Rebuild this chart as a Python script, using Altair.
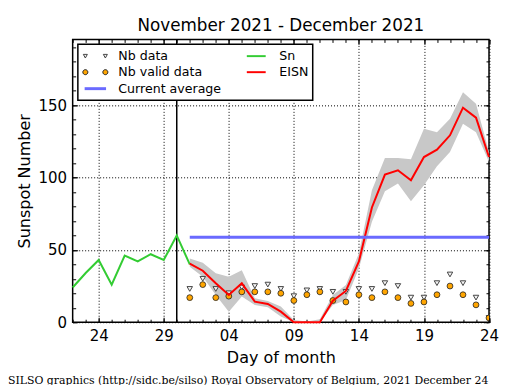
import altair as alt
import pandas as pd

FONT = "DejaVu Sans"

# ---------------- data ----------------
# x = day number counted from 1 Nov 2021 (30 = 30 Nov, 31 = 1 Dec, 54 = 24 Dec)
sn_days = [22, 23, 24, 25, 26, 27, 28, 29, 30, 31]
sn_values = [24, 34, 43, 26, 46, 42, 47, 43, 60, 40]

eisn_days = list(range(31, 55))
eisn_values = [40.5, 35.6, 26.9, 18.8, 26.9, 14.2, 12.6, 7.3, 0, 0, 0, 14.9,
               21.6, 42, 79.3, 102, 105, 98.1, 114.2, 119.3, 129.2, 148.3, 141.4, 114.2]
eisn_upper = [44.1, 41.1, 33.8, 31.4, 36, 16.6, 14.7, 10.8, 1.6, 0.5, 2, 18.8,
              25.7, 47.6, 91.2, 113.5, 113.5, 112.6, 133.8, 131.4, 140.7, 159, 151, 117.7]
eisn_lower = [38.3, 31.4, 18.8, 7.3, 17.7, 11.9, 10.3, 3.9, 0, 0, 0, 11.9,
              15.4, 37.2, 69.4, 90.6, 95.9, 83.7, 94.7, 107.8, 117.7, 137.2, 131.4, 110.8]
nb_data = [23, 30, 23, 20, 24, 25, 26, 23, 18, 22, 23, 21,
           21, 23, 23, 27, 25, 17, 17, 27, 33, 27, 17, 3]
nb_valid = [17, 26, 17, 18, 21, 21, 21, 20, 15, 19, 21, 15,
            14, 19, 17, 21, 17, 13, 14, 19, 25, 19, 12, 3]
current_average = [58.8]
average_start = [31]
average_end = [54]
month_line = [30]

x_major = [24, 29, 34, 39, 44, 49, 54]
x_minor = list(range(22, 55))
y_major = [0, 50, 100, 150]
y_minor = list(range(0, 200, 10))
x_domain = [22, 54]
y_domain = [0, 195.5]

title_text = "November 2021 - December 2021"
footer_text = "SILSO graphics (http://sidc.be/silso) Royal Observatory of Belgium, 2021 December 24"

legend_order = ["Nb data", "Nb valid data", "Current average", "Sn", "EISN"]

# ---------------- tables ----------------
sn_df = pd.DataFrame({"day": sn_days, "sn": sn_values})
eisn_df = pd.DataFrame({"day": eisn_days, "eisn": eisn_values, "hi": eisn_upper,
                        "lo": eisn_lower, "nb": nb_data, "nbv": nb_valid})
avg_df = pd.DataFrame({"start": average_start, "end": average_end, "avg": current_average})
vline_df = pd.DataFrame({"day": month_line})
leg_df = pd.DataFrame({"series": legend_order})
foot_df = pd.DataFrame({"t": [footer_text]})

xs = alt.Scale(domain=x_domain, nice=False, zero=False)
ys = alt.Scale(domain=y_domain, nice=False, zero=False)

label_expr = ("datum.value > 30 ? ((datum.value - 30) < 10 ? '0' + (datum.value - 30) "
              ": '' + (datum.value - 30)) : '' + datum.value")

common = dict(domain=False, tickColor="black", tickWidth=1)

ax_x_main = alt.Axis(values=x_major, labelExpr=label_expr, orient="bottom", offset=-5,
                     tickSize=5, grid=True, gridDash=[1, 2], gridColor="black", gridWidth=1,
                     labelFont=FONT, labelFontSize=15, labelColor="black", labelPadding=6,
                     labelFlush=False, labelOverlap=False,
                     title="Day of month", titleFont=FONT, titleFontSize=16,
                     titleFontWeight="normal", titleColor="black", titlePadding=6, **common)
ax_y_main = alt.Axis(values=y_major, orient="left", offset=-5, tickSize=5, grid=True,
                     gridDash=[1, 2], gridColor="black", gridWidth=1,
                     labelFont=FONT, labelFontSize=15, labelColor="black", labelPadding=6,
                     labelFlush=False, labelOverlap=False,
                     title="Sunspot Number", titleFont=FONT, titleFontSize=16,
                     titleFontWeight="normal", titleColor="black", titlePadding=6, **common)


def tick_axis(values, orient, size):
    return alt.Axis(values=values, orient=orient, offset=-size, tickSize=size, labels=False,
                    grid=False, title=None, **common)


def X(field, axis=None):
    return alt.X(field, type="quantitative", scale=xs, axis=axis)


def Y(field, axis=None):
    return alt.Y(field, type="quantitative", scale=ys, axis=axis)


band = alt.Chart(eisn_df).mark_area(color="#c8c8c8", opacity=1).encode(
    x=X("day", ax_x_main), y=Y("hi", ax_y_main), y2="lo")

vline = alt.Chart(vline_df).mark_rule(color="black", strokeWidth=1.5).encode(x=X("day"))

tri = alt.Chart(eisn_df).mark_point(shape="triangle-down", size=30, filled=True,
                                    fill="#f4f4f4", stroke="#444444", strokeWidth=1,
                                    opacity=1, clip=True).encode(
    x=X("day", tick_axis(x_minor, "bottom", 3)), y=Y("nb", tick_axis(y_minor, "left", 3)))

circ = alt.Chart(eisn_df).mark_point(shape="circle", size=34, filled=True, fill="#ffa500",
                                     stroke="#222222", strokeWidth=0.8, opacity=1,
                                     clip=True).encode(
    x=X("day", tick_axis(x_major, "top", 5)), y=Y("nbv", tick_axis(y_major, "right", 5)))

sn = alt.Chart(sn_df).mark_line(color="#33cc33", strokeWidth=2).encode(
    x=X("day", tick_axis(x_minor, "top", 3)), y=Y("sn", tick_axis(y_minor, "right", 3)))

eisn = alt.Chart(eisn_df).mark_line(color="#ff0000", strokeWidth=2).encode(
    x=X("day"), y=Y("eisn"))

avg = alt.Chart(avg_df).mark_rule(color="#6a6aff", strokeWidth=3).encode(
    x=X("start"), x2="end", y=Y("avg"))

# legend symbols (custom paths, two markers like the original)
tri_path = "M-1.72,-0.25L-1.14,-0.25L-1.43,0.27Z M1.14,-0.25L1.72,-0.25L1.43,0.27Z"
circ_path = ("M-1.07,0A0.36,0.36,0,1,0,-1.79,0A0.36,0.36,0,1,0,-1.07,0Z "
             "M1.79,0A0.36,0.36,0,1,0,1.07,0A0.36,0.36,0,1,0,1.79,0Z")
thin_line = "M-1.35,-0.14H1.35V0.14H-1.35Z"
thick_line = "M-1.53,-0.21H1.53V0.21H-1.53Z"

shape_range = [tri_path, circ_path, thick_line, thin_line, thin_line]
fill_range = ["#f4f4f4", "#ffa500", "#6a6aff", "#33cc33", "#ff0000"]
stroke_range = ["#444444", "#222222", "transparent", "transparent", "transparent"]

leg = alt.Legend(title=None, orient="none", legendX=5.2, legendY=4.8, columns=2,
                 columnPadding=21, rowPadding=1.5, padding=4, symbolSize=196,
                 symbolOffset=6, labelOffset=15.5, labelFont=FONT, labelFontSize=12.6,
                 labelColor="black", labelLimit=0, strokeColor="black", fillColor="white",
                 symbolFillColor="transparent", symbolStrokeColor="black",
                 symbolStrokeWidth=1, cornerRadius=0)

dummy = alt.Chart(leg_df).mark_point(filled=True, opacity=1).encode(
    shape=alt.Shape("series:N", scale=alt.Scale(domain=legend_order, range=shape_range), legend=leg),
    fill=alt.Fill("series:N", scale=alt.Scale(domain=legend_order, range=fill_range), legend=leg),
    stroke=alt.Stroke("series:N", scale=alt.Scale(domain=legend_order, range=stroke_range), legend=leg),
).transform_filter("false")

footer = alt.Chart(foot_df).mark_text(align="left", baseline="alphabetic", font="DejaVu Serif",
                                      fontSize=10.9, color="black").encode(
    text="t:N", x=alt.value(-64.7), y=alt.value(344.5))

chart = alt.layer(band, vline, tri, circ, sn, eisn, avg, dummy, footer).resolve_axis(
    x="independent", y="independent"
).properties(
    width=416.6, height=283,
    title=alt.Title(title_text, font=FONT, fontSize=16.8, fontWeight="normal", color="black",
                    anchor="middle", frame="group", offset=-9.5, baseline="alphabetic"),
    autosize=alt.AutoSizeParams(type="none"),
    padding={"left": 64.7, "top": 31.3, "right": 18, "bottom": 63},
).configure_view(stroke="black", strokeWidth=1.5).configure_legend(strokeWidth=1.5)

chart.save("out.html", embed_options={"renderer": "svg", "actions": False})
